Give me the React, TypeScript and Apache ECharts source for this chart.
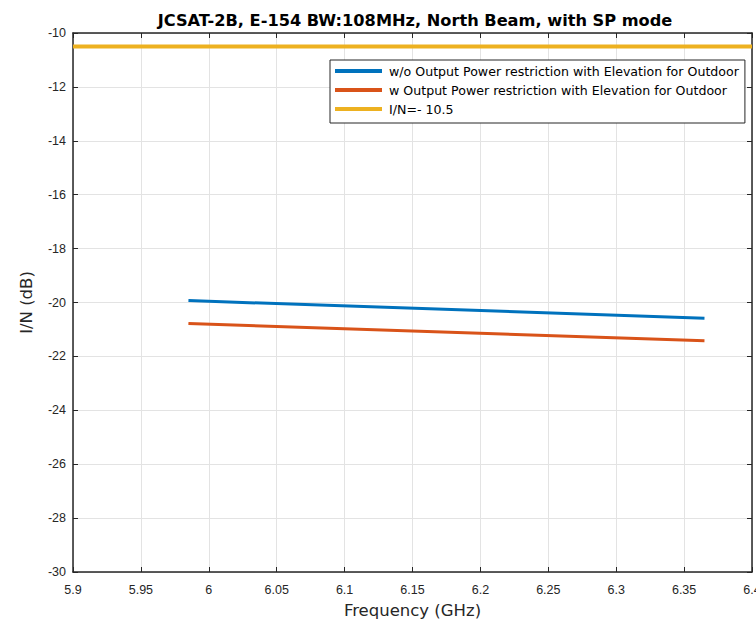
import React, { useEffect, useRef } from "react";
import * as echarts from "echarts";

const titleText = "JCSAT-2B, E-154 BW:108MHz, North Beam, with SP mode";
const xName = "Frequency (GHz)";
const yName = "I/N (dB)";

const seriesNames = [
  "w/o Output Power restriction with Elevation for Outdoor",
  "w Output Power restriction with Elevation for Outdoor",
  "I/N=- 10.5",
];
const seriesColors = ["#0072BD", "#D95319", "#EDB120"];

const freqWithout = [5.985, 6.365];
const valWithout = [-19.93, -20.58];
const freqWith = [5.985, 6.365];
const valWith = [-20.78, -21.42];
const freqLimit = [5.9, 6.4];
const valLimit = [-10.5, -10.5];

const xMin = 5.9;
const xMax = 6.4;
const xStep = 0.05;
const yMin = -30;
const yMax = -10;
const yStep = 2;

const zip = (xs: number[], ys: number[]) => xs.map((x, i) => [x, ys[i]]);

const axisColor = "#262626";
const gridColor = "#e3e3e3";
const fontFamily = "Liberation Sans, Arial, sans-serif";
const wideFont = "DejaVu Sans, sans-serif";

export default function App() {
  const ref = useRef<HTMLDivElement>(null);
  useEffect(() => {
    document.body.style.margin = "0";
    const chart = echarts.init(ref.current!, null, { renderer: "svg" });
    const fmtX = (v: number) => String(Math.round(v * 100) / 100);
    chart.setOption({
      animation: false,
      backgroundColor: "#ffffff",
      textStyle: { fontFamily },
      title: {
        text: titleText,
        left: 410,
        textAlign: "center",
        top: 7,
        textStyle: { fontSize: 16.2, fontWeight: "bold", color: "#000", fontFamily: wideFont },
      },
      grid: { left: 73, right: 4, top: 33, bottom: 47, containLabel: false, outerBoundsMode: "none" },
      legend: {
        orient: "vertical",
        left: 330,
        top: 60,
        padding: [4, 6, 7, 5],
        itemGap: 5,
        itemWidth: 47,
        itemHeight: 4,
        icon: "rect",
        borderColor: "#262626",
        borderWidth: 1,
        backgroundColor: "#fff",
        textStyle: { fontSize: 12.6, lineHeight: 14, color: "#000", fontFamily: wideFont, padding: [0, 0, 0, 2] },
        data: seriesNames,
      },
      xAxis: [
        {
          type: "value",
          min: xMin,
          max: xMax,
          interval: xStep,
          position: "bottom",
          name: xName,
          nameLocation: "middle",
          nameGap: 30,
          nameTextStyle: { fontSize: 16.5, color: axisColor, fontFamily: wideFont },
          axisLine: { show: true, lineStyle: { color: axisColor, width: 1.5 } },
          axisTick: { show: true, inside: true, length: 5, lineStyle: { color: axisColor } },
          axisLabel: { color: axisColor, fontSize: 12.5, margin: 11, formatter: fmtX, showMaxLabel: true },
          splitLine: { show: true, lineStyle: { color: gridColor, width: 1 } },
        },
        {
          type: "value",
          min: xMin,
          max: xMax,
          interval: xStep,
          position: "top",
          axisLine: { show: true, lineStyle: { color: axisColor, width: 1.5 } },
          axisTick: { show: true, inside: true, length: 5, lineStyle: { color: axisColor } },
          axisLabel: { show: false },
          splitLine: { show: false },
        },
      ],
      yAxis: [
        {
          type: "value",
          min: yMin,
          max: yMax,
          interval: yStep,
          position: "left",
          name: yName,
          nameLocation: "middle",
          nameGap: 38,
          nameRotate: 90,
          nameTextStyle: { fontSize: 16.5, color: axisColor, fontFamily: wideFont },
          axisLine: { show: true, lineStyle: { color: axisColor, width: 1.5 } },
          axisTick: { show: true, inside: true, length: 5, lineStyle: { color: axisColor } },
          axisLabel: { color: axisColor, fontSize: 12.5, margin: 7 },
          splitLine: { show: true, lineStyle: { color: gridColor, width: 1 } },
        },
        {
          type: "value",
          min: yMin,
          max: yMax,
          interval: yStep,
          position: "right",
          axisLine: { show: true, lineStyle: { color: axisColor, width: 1.5 } },
          axisTick: { show: true, inside: true, length: 5, lineStyle: { color: axisColor } },
          axisLabel: { show: false },
          splitLine: { show: false },
        },
      ],
      series: [
        {
          name: seriesNames[0],
          type: "line",
          data: zip(freqWithout, valWithout),
          showSymbol: false,
          symbol: "none",
          lineStyle: { color: seriesColors[0], width: 3 },
          itemStyle: { color: seriesColors[0] },
        },
        {
          name: seriesNames[1],
          type: "line",
          data: zip(freqWith, valWith),
          showSymbol: false,
          symbol: "none",
          lineStyle: { color: seriesColors[1], width: 3 },
          itemStyle: { color: seriesColors[1] },
        },
        {
          name: seriesNames[2],
          type: "line",
          data: zip(freqLimit, valLimit),
          showSymbol: false,
          symbol: "none",
          lineStyle: { color: seriesColors[2], width: 4 },
          itemStyle: { color: seriesColors[2] },
        },
      ],
    });
    return () => chart.dispose();
  }, []);
  return <div ref={ref} style={{ width: 756, height: 619, position: "absolute", left: 0, top: 0 }} />;
}
